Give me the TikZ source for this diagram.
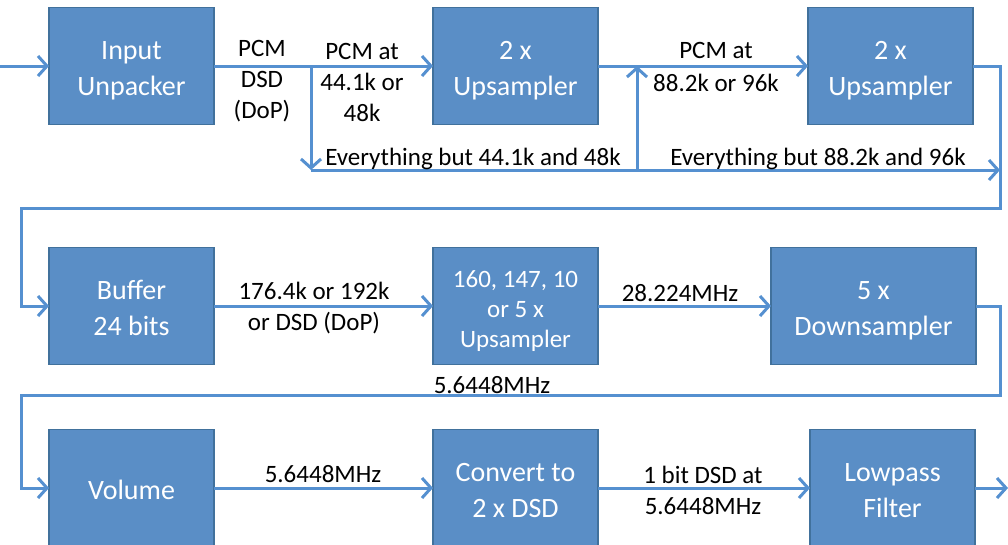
\documentclass[tikz,border=0pt]{standalone}
\usepackage{fontspec}
\setmainfont{Carlito}
\usepackage{xcolor}
\usetikzlibrary{arrows.meta, positioning}

\definecolor{boxblue}{HTML}{5A8EC6}
\definecolor{boxedge}{HTML}{41719C}
\definecolor{lineblue}{HTML}{5590D0}
% top strut for box text
\newcommand{\toprule}{\rule{0pt}{29pt}}

\begin{document}
\begin{tikzpicture}[
  x=1pt, y=1pt,
  node distance=219pt,
  box/.style={rectangle, draw=boxedge, line width=1.5pt, fill=boxblue,
              text=white, minimum width=165pt, minimum height=117pt,
              outer sep=0pt, align=center,
              font=\fontsize{28}{36}\selectfont,
              execute at end node=\rule[-7pt]{0pt}{0pt}},
  lbl/.style={align=center, font=\fontsize{25}{31}\selectfont, inner sep=2pt},
  link/.style={draw=lineblue, line width=3pt},
  arrow/.style={link, -{Straight Barb[length=9pt,width=20pt]}},
]
  \useasboundingbox (0,0) rectangle (1008,-544);
  \clip (0,0) rectangle (1008,-544);

  % First row
  \node[box] (unpack) at (131.5,-66) {\toprule Input\\Unpacker};
  \node[box, right=of unpack] (up1) {\toprule 2 x\\Upsampler};
  \node[box, right=210pt of up1] (up2) {\toprule 2 x\\Upsampler};
  % Second row
  \node[box] (buffer) at (131.5,-306) {\toprule Buffer\\24 bits};
  \node[box, right=of buffer, font=\fontsize{25}{30}\selectfont] (ups) {\toprule 160, 147, 10\\or 5 x\\Upsampler};
  \node[box, right=173pt of ups, minimum width=205pt] (down) {\toprule 5 x\\Downsampler};
  % Third row
  \node[box] (volume) at (131.5,-488) {\toprule Volume};
  \node[box, right=of volume] (conv) {\toprule Convert to\\2 x DSD};
  \node[box, right=212pt of conv] (lowpass) {\toprule Lowpass\\Filter};

  % Turning points
  \coordinate (in)    at (0,-66);
  \coordinate (split) at (311,-66);
  \coordinate (low)   at (311,-170);
  \coordinate (merge) at (637,-170);
  \coordinate (join)  at (637,-66);
  \coordinate (rhs)   at (1000,-170);
  \coordinate (r1)    at (1000,-208);
  \coordinate (l1)    at (21,-208);
  \coordinate (r2)    at (1000,-395);
  \coordinate (l2)    at (21,-395);
  \coordinate (out)   at (1008,-488);

  % Arrows
  \draw[arrow] (in) -- (unpack);
  \draw[arrow] (unpack) -- (up1);
  \draw[arrow] (split) -- (low);
  \draw[link]  (low) -- (merge);
  \draw[arrow] (merge) -- (join);
  \draw[arrow] (low) -- (rhs);
  \draw[arrow] (up1) -- (up2);
  \draw[arrow] (up2) -| (r1) -- (l1) |- (buffer);
  \draw[arrow] (buffer) -- (ups);
  \draw[arrow] (ups) -- (down);
  \draw[arrow] (down) -| (r2) -- (l2) |- (volume);
  \draw[arrow] (volume) -- (conv);
  \draw[arrow] (conv) -- (lowpass);
  \draw[arrow] (lowpass) -- (out);

  % Labels
  \node[lbl] (fmt)   at (262,-81)  {PCM\\DSD\\(DoP)};
  \node[lbl] (pcm1)  at (362,-82)  {PCM at\\44.1k or\\48k};
  \node[lbl] (pcm2)  at (716,-67)  {PCM at\\[2pt]88.2k or 96k};
  \node[lbl] (rest1) at (473,-159) {Everything but 44.1k and 48k};
  \node[lbl] (rest2) at (818,-159) {Everything but 88.2k and 96k};
  \node[lbl] (rate1) at (314,-308) {176.4k or 192k\\or DSD (DoP)};
  \node[lbl] (rate2) at (680,-293) {28.224MHz};
  \node[lbl] (rate3) at (492,-385) {5.6448MHz};
  \node[lbl] (rate4) at (323,-474) {5.6448MHz};
  \node[lbl] (rate5) at (703,-490) {1 bit DSD at\\5.6448MHz};
\end{tikzpicture}
\end{document}
